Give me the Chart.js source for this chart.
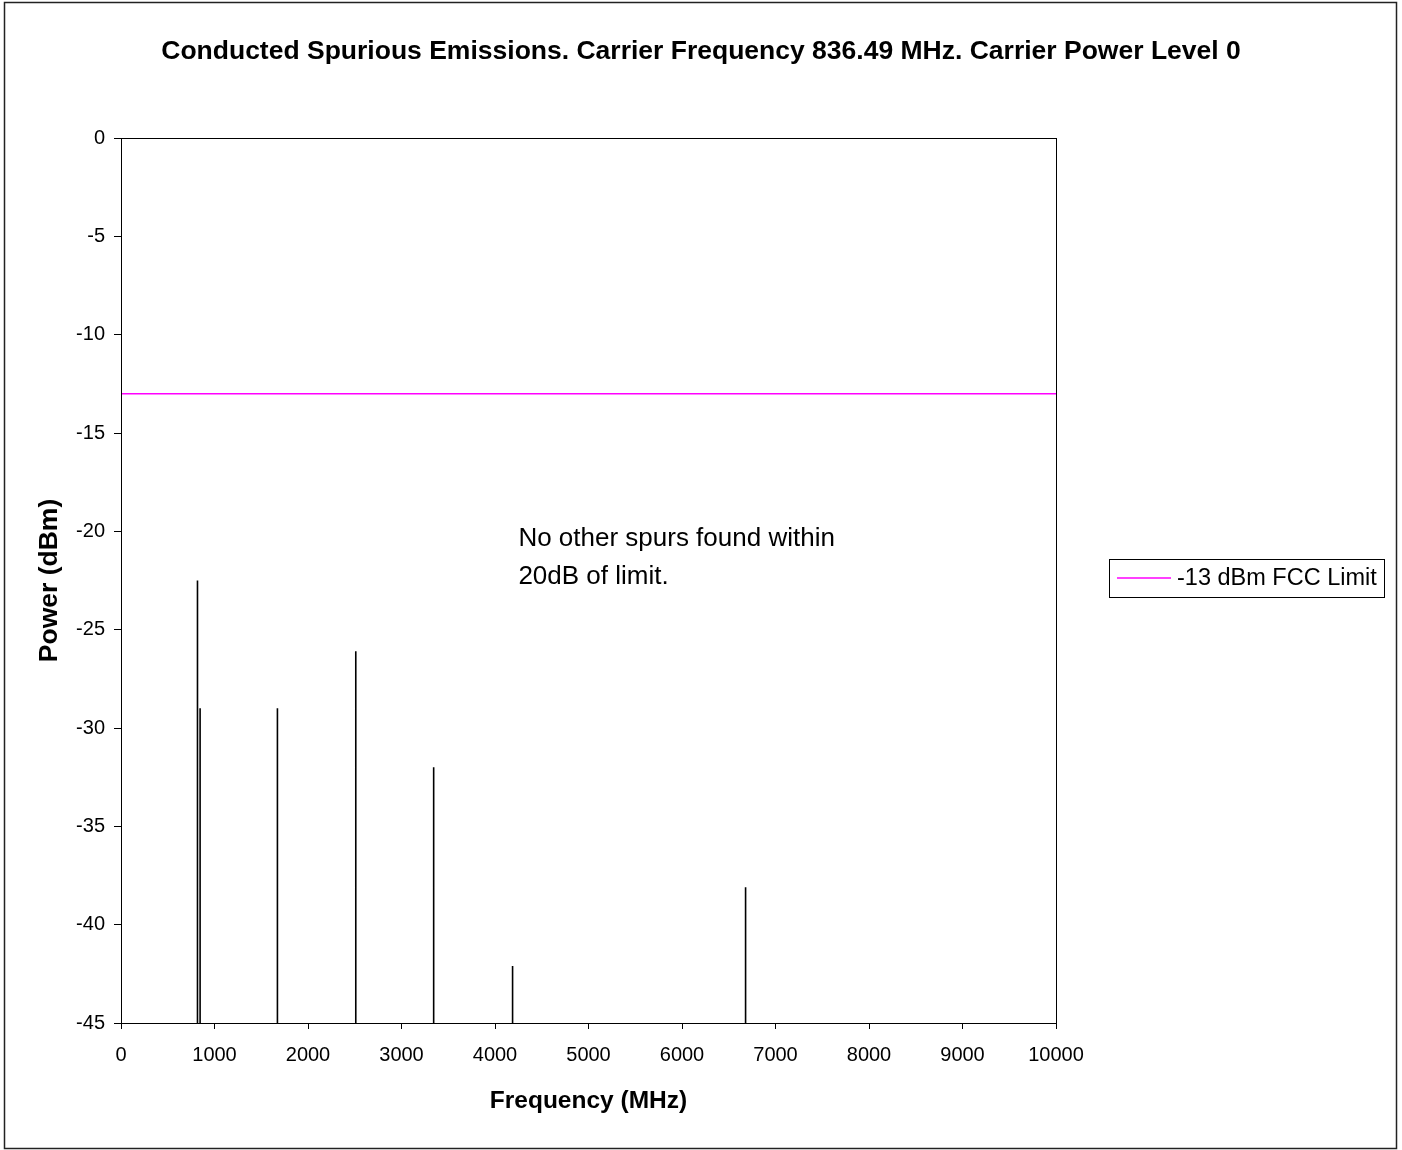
<!DOCTYPE html>
<html>
<head>
<meta charset="utf-8">
<title>Conducted Spurious Emissions</title>
<script src="https://cdn.jsdelivr.net/npm/chart.js@4.4.0/dist/chart.umd.min.js"></script>
<style>
  html, body { margin: 0; padding: 0; background: #fff; }
  canvas { display: block; }
</style>
</head>
<body>
<canvas id="spurChart" width="1402" height="1150"></canvas>
<script>
// measured spurs: frequency (MHz) and peak level (dBm)
var spurFreqs = [818, 846, 1673, 2511, 3344, 4188, 6680];
var spurLevels = [-22.5, -29, -29, -26.1, -32, -42.1, -38.1];

// FCC limit line
var limitFreqs = [0, 10000];
var limitLevels = [-13, -13];

// axis ranges / tick steps
var freqMin = 0, freqMax = 10000, freqStep = 1000;
var levelMin = -45, levelMax = 0, levelStep = 5;

var chartTitle = 'Conducted Spurious Emissions. Carrier Frequency 836.49 MHz. Carrier Power Level 0';
var noteLines = ['No other spurs found within', '20dB of limit.'];
var limitLabel = '-13 dBm FCC Limit';

var FONT = '"Liberation Sans", Arial, sans-serif';
var MAGENTA = '#FF00FF';

// each spur is a vertical stick from the axis floor up to its level,
// separated by a null point so the line breaks between spurs
function spurPoints() {
  var pts = [];
  spurFreqs.forEach(function(f, i) {
    pts.push({ x: f, y: levelMin });
    pts.push({ x: f, y: spurLevels[i] });
    pts.push({ x: f, y: null });
  });
  return pts;
}

function limitPoints() {
  return limitFreqs.map(function(f, i) {
    return { x: f, y: limitLevels[i] };
  });
}

// frame, title, plot border, note text and legend box
var decorations = {
  id: 'decorations',
  beforeDraw: function(chart) {
    var ctx = chart.ctx;
    ctx.save();
    ctx.fillStyle = '#fff';
    ctx.fillRect(0, 0, chart.width, chart.height);
    ctx.restore();
  },
  afterDraw: function(chart) {
    var ctx = chart.ctx;
    var area = chart.chartArea;
    var xs = chart.scales.x, ys = chart.scales.y;
    ctx.save();

    // outer frame
    ctx.strokeStyle = '#222';
    ctx.lineWidth = 1.5;
    ctx.strokeRect(4.5, 2.5, 1392, 1146);

    // plot area border
    ctx.strokeStyle = '#000';
    ctx.lineWidth = 1;
    ctx.strokeRect(Math.round(area.left) + 0.5, Math.round(area.top) + 0.5,
      Math.round(area.right - area.left), Math.round(area.bottom - area.top));

    // title
    ctx.fillStyle = '#000';
    ctx.font = 'bold 26.5px ' + FONT;
    ctx.textAlign = 'center';
    ctx.textBaseline = 'middle';
    ctx.fillText(chartTitle, 701, 52);

    // note inside the plot
    ctx.font = '26px ' + FONT;
    ctx.textAlign = 'left';
    var nx = xs.getPixelForValue(4250);
    var ny = ys.getPixelForValue(-20.4);
    noteLines.forEach(function(line, i) {
      ctx.fillText(line, nx, ny + i * 38);
    });

    // legend
    ctx.strokeStyle = '#000';
    ctx.lineWidth = 1;
    ctx.strokeRect(1109.5, 559.5, 275, 38);
    ctx.strokeStyle = MAGENTA;
    ctx.lineWidth = 1.5;
    ctx.beginPath();
    ctx.moveTo(1117, 578);
    ctx.lineTo(1171, 578);
    ctx.stroke();
    ctx.fillStyle = '#000';
    ctx.font = '23.5px ' + FONT;
    ctx.textBaseline = 'middle';
    ctx.fillText(limitLabel, 1177, 579);

    ctx.restore();
  }
};

new Chart(document.getElementById('spurChart'), {
  type: 'scatter',
  data: {
    datasets: [
      {
        label: 'Spurs',
        data: spurPoints(),
        showLine: true,
        spanGaps: false,
        borderColor: '#000',
        borderWidth: 1.6,
        pointRadius: 0,
        pointHoverRadius: 0
      },
      {
        label: limitLabel,
        data: limitPoints(),
        showLine: true,
        borderColor: MAGENTA,
        borderWidth: 1.5,
        pointRadius: 0,
        pointHoverRadius: 0
      }
    ]
  },
  options: {
    responsive: false,
    animation: false,
    devicePixelRatio: 1,
    layout: { padding: { left: 0, top: 138, right: 346, bottom: 27 } },
    plugins: {
      legend: { display: false },
      tooltip: { enabled: false },
      title: { display: false }
    },
    scales: {
      x: {
        type: 'linear',
        position: 'bottom',
        min: freqMin,
        max: freqMax,
        ticks: {
          stepSize: freqStep,
          color: '#000',
          font: { family: FONT, size: 20 },
          padding: 14,
          maxRotation: 0,
          autoSkip: false,
          callback: function(v) { return String(v); }
        },
        grid: { drawOnChartArea: false, drawTicks: true, tickLength: 6, color: '#000' },
        border: { color: '#000', width: 1 },
        title: {
          display: true,
          text: 'Frequency (MHz)',
          color: '#000',
          font: { family: FONT, size: 24.5, weight: 'bold' },
          padding: { top: 0, bottom: 7 }
        },
        afterFit: function(scale) { scale.height = 100; }
      },
      y: {
        type: 'linear',
        position: 'left',
        min: levelMin,
        max: levelMax,
        ticks: {
          stepSize: levelStep,
          color: '#000',
          font: { family: FONT, size: 20 },
          padding: 9
        },
        grid: { drawOnChartArea: false, drawTicks: true, tickLength: 7, color: '#000' },
        border: { color: '#000', width: 1 },
        title: {
          display: true,
          text: 'Power (dBm)',
          color: '#000',
          font: { family: FONT, size: 26.5, weight: 'bold' },
          padding: { top: 34, bottom: 0 }
        },
        afterFit: function(scale) { scale.width = 121; }
      }
    }
  },
  plugins: [decorations]
});
</script>
</body>
</html>
